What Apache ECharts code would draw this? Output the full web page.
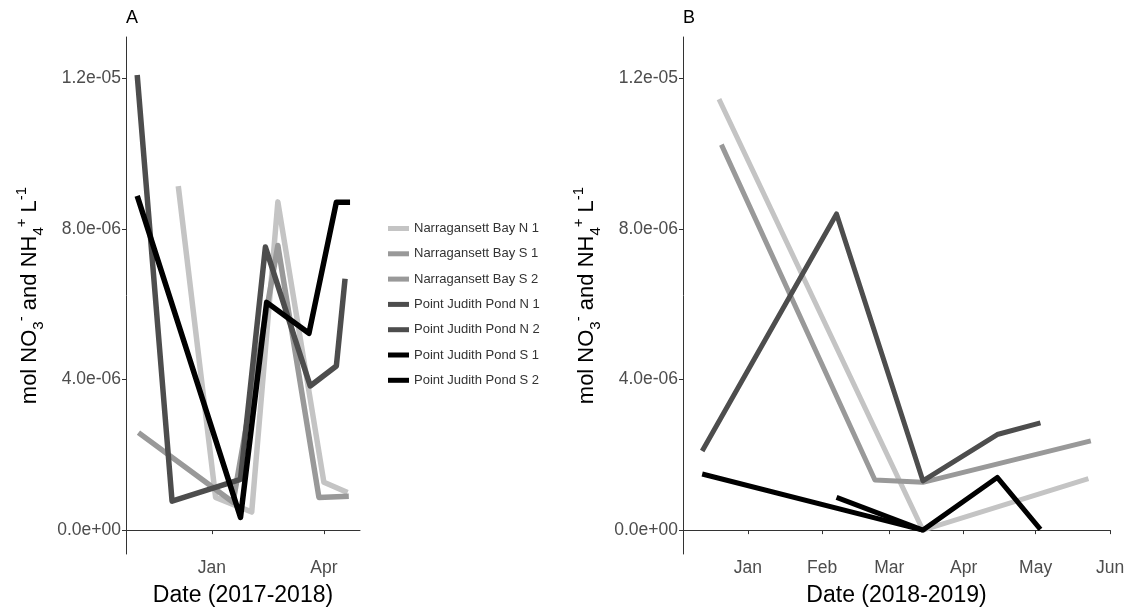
<!DOCTYPE html>
<html>
<head>
<meta charset="utf-8">
<script src="https://cdn.jsdelivr.net/npm/echarts@6/dist/echarts.min.js"></script>
<style>
html,body{margin:0;padding:0;background:#fff;}
#chart{width:1129px;height:612px;}
</style>
</head>
<body>
<div id="chart"></div>
<script>
// ---------- data ----------
const seriesNames = [
  'Narragansett Bay N 1', 'Narragansett Bay S 1', 'Narragansett Bay S 2',
  'Point Judith Pond N 1', 'Point Judith Pond N 2', 'Point Judith Pond S 1', 'Point Judith Pond S 2'
];
const yTicks = [0, 4e-6, 8e-6, 1.2e-5];
const xTicksA = ['2018-01-01', '2018-04-01'];
const xTicksB = ['2019-01-01', '2019-02-01', '2019-03-01', '2019-04-01', '2019-05-01', '2019-06-01'];

// Panel A (2017-2018)
const nbN1_A = [['2017-12-05', 9.14e-6], ['2018-01-04', 0.87e-6], ['2018-02-02', 0.48e-6], ['2018-02-23', 8.72e-6], ['2018-04-01', 1.27e-6], ['2018-04-20', 1.0e-6]];
const nbS1_A = [['2017-11-03', 2.59e-6], ['2018-01-18', 0.74e-6], ['2018-02-23', 7.56e-6], ['2018-03-28', 0.87e-6], ['2018-04-21', 0.9e-6]];
const pjN1_A = [['2017-11-02', 12.09e-6], ['2017-11-30', 0.77e-6], ['2018-01-24', 1.35e-6], ['2018-02-13', 7.52e-6], ['2018-03-21', 3.83e-6], ['2018-04-11', 4.36e-6], ['2018-04-18', 6.68e-6]];
const pjS1_A = [['2017-11-02', 8.88e-6], ['2018-01-24', 0.34e-6], ['2018-02-14', 6.05e-6], ['2018-03-20', 5.23e-6], ['2018-04-11', 8.71e-6], ['2018-04-22', 8.71e-6]];

// Panel B (2018-2019)
const nbN1_B = [['2018-12-20', 11.45e-6], ['2019-03-15', 0.0], ['2019-05-23', 1.37e-6]];
const nbS2_B = [['2018-12-21', 10.24e-6], ['2019-02-23', 1.33e-6], ['2019-03-15', 1.27e-6], ['2019-05-24', 2.37e-6]];
const pjN2_B = [['2018-12-13', 2.10e-6], ['2019-02-07', 8.40e-6], ['2019-03-15', 1.31e-6], ['2019-04-15', 2.54e-6], ['2019-05-03', 2.85e-6]];
const pjS1_B = [['2019-02-07', 0.87e-6], ['2019-03-15', 0.0]];
const pjS2_B = [['2018-12-13', 1.49e-6], ['2019-03-15', 0.0], ['2019-04-15', 1.40e-6], ['2019-05-03', 0.02e-6]];

// ---------- helpers ----------
const ts = s => Date.parse(s + 'T00:00:00Z');
const pts = arr => arr.map(d => [ts(d[0]), d[1]]);
const MONTHS = ['Jan','Feb','Mar','Apr','May','Jun','Jul','Aug','Sep','Oct','Nov','Dec'];
const fmtY = v => {
  if (Math.abs(v) < 1e-12) return '0.0e+00';
  return v.toExponential(1).replace(/e([+-])(\d)$/, 'e$10$2');
};
const FONT = '"Liberation Sans", Arial, Helvetica, sans-serif';
const C = { light: '#c4c4c4', mid: '#999999', dark: '#4d4d4d', black: '#000000' };

const yMin = -0.634e-6, yMax = 13.1e-6;

function yAxis(gi) {
  return {
    type: 'value', gridIndex: gi, min: yMin, max: yMax,
    name: '{t|mol NO}{sub|3}{sup|-}{t| and NH}{sub|4}{sup|+}{t| L}{sup|-1}',
    nameLocation: 'middle', nameGap: 80, nameRotate: 90,
    nameTextStyle: {
      rich: {
        t: { fontSize: 22, color: '#000', fontFamily: FONT, lineHeight: 32, verticalAlign: 'middle' },
        sub: { fontSize: 15, color: '#000', fontFamily: FONT, lineHeight: 14, verticalAlign: 'bottom' },
        sup: { fontSize: 15, color: '#000', fontFamily: FONT, lineHeight: 14, verticalAlign: 'top' }
      }
    },
    splitLine: { show: false },
    axisLine: { show: true, lineStyle: { color: '#333', width: 1 } },
    axisTick: { show: true, length: 4, lineStyle: { color: '#333' }, customValues: yTicks },
    axisLabel: { customValues: yTicks, formatter: fmtY, color: '#4d4d4d', fontSize: 17.5, fontFamily: FONT, margin: 5 }
  };
}
function xAxis(gi, ticks, min, max, title) {
  const tv = ticks.map(ts);
  return {
    type: 'value', gridIndex: gi, min: ts(min), max: ts(max),
    name: title, nameLocation: 'middle', nameGap: 30,
    nameTextStyle: { fontSize: 23, color: '#000', fontFamily: FONT },
    splitLine: { show: false },
    axisLine: { show: true, lineStyle: { color: '#333', width: 1 } },
    axisTick: { show: true, length: 4, lineStyle: { color: '#333' }, customValues: tv },
    axisLabel: {
      customValues: tv, color: '#4d4d4d', fontSize: 17.5, fontFamily: FONT, margin: 5,
      formatter: v => MONTHS[new Date(v).getUTCMonth()]
    }
  };
}
function line(name, data, color, gi, w) {
  return {
    type: 'line', name: name, xAxisIndex: gi, yAxisIndex: gi,
    data: pts(data), showSymbol: false, symbol: 'none', animation: false,
    lineStyle: { color: color, width: w, cap: 'butt', join: 'round' },
    itemStyle: { color: color }, emphasis: { disabled: true }, z: 2
  };
}

const chart = echarts.init(document.getElementById('chart'), null, { renderer: 'canvas' });
chart.setOption({
  backgroundColor: '#fff',
  animation: false,
  grid: [
    { left: 126, top: 37, width: 234, height: 520 },
    { left: 683, top: 37, width: 427, height: 520 }
  ],
  xAxis: [
    xAxis(0, xTicksA, '2017-10-24', '2018-04-30', 'Date (2017-2018)'),
    xAxis(1, xTicksB, '2018-12-05', '2019-06-01', 'Date (2018-2019)')
  ],
  yAxis: [yAxis(0), yAxis(1)],
  legend: {
    data: seriesNames, orient: 'vertical', left: 383, top: 217,
    icon: 'rect', itemWidth: 21, itemHeight: 5, itemGap: 12.3,
    textStyle: { fontSize: 13, color: '#333', fontFamily: FONT },
    selectedMode: false
  },
  graphic: [
    { type: 'text', left: 126, top: 9, style: { text: 'A', fontSize: 18, fill: '#000', fontFamily: FONT } },
    { type: 'text', left: 683, top: 9, style: { text: 'B', fontSize: 18, fill: '#000', fontFamily: FONT } }
  ],
  series: [
    line('Narragansett Bay N 1', nbN1_A, C.light, 0, 5.5),
    line('Narragansett Bay S 1', nbS1_A, C.mid, 0, 5.5),
    line('Point Judith Pond N 1', pjN1_A, C.dark, 0, 5.5),
    line('Point Judith Pond S 1', pjS1_A, C.black, 0, 5.5),
    line('Narragansett Bay N 1', nbN1_B, C.light, 1, 5),
    line('Narragansett Bay S 2', nbS2_B, C.mid, 1, 5),
    line('Point Judith Pond N 2', pjN2_B, C.dark, 1, 5),
    line('Point Judith Pond S 1', pjS1_B, C.black, 1, 5),
    line('Point Judith Pond S 2', pjS2_B, C.black, 1, 5)
  ]
});
</script>
</body>
</html>
